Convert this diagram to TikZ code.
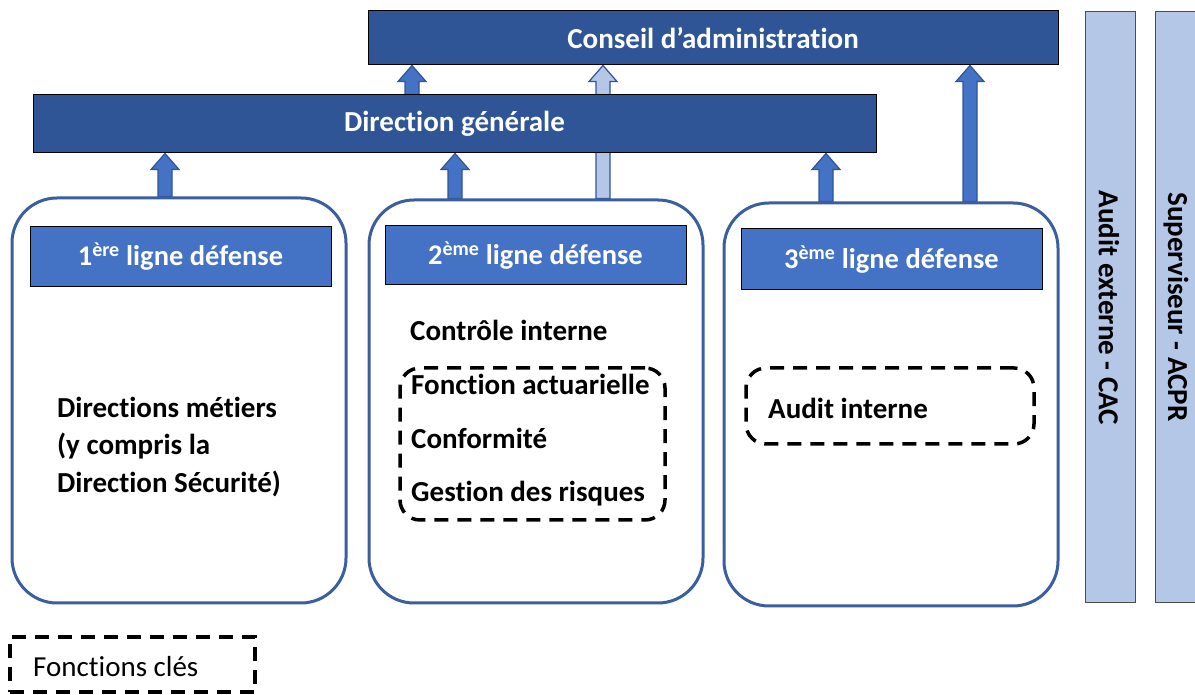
\documentclass[tikz,border=0pt]{standalone}
\usepackage{fontspec}
\setmainfont{Carlito}[Ligatures=NoCommon]
\usetikzlibrary{calc,backgrounds}
\definecolor{dkblue}{HTML}{2F5597}
\definecolor{mdblue}{HTML}{4472C4}
\definecolor{ltblue}{HTML}{B4C7E7}
\definecolor{edgeblue}{HTML}{3A5E9E}
\tikzset{
  topbar/.style={draw=black, line width=1pt, fill=dkblue, text=white, font=\fontsize{29}{32}\selectfont\bfseries, inner sep=0pt},
  sidebar/.style={draw=black!70, line width=1pt, fill=ltblue, inner sep=0pt},
  sidetext/.style={rotate=-90, font=\fontsize{29}{32}\selectfont\bfseries, inner sep=0pt},
  linebox/.style={draw=edgeblue, line width=3pt, rounded corners=45pt, inner sep=0pt},
  header/.style={draw=black, line width=1pt, fill=mdblue, text=white, font=\fontsize{28.5}{32}\selectfont\bfseries, inner sep=0pt},
  body/.style={font=\fontsize{29}{37.5}\selectfont\bfseries, text=black, inner sep=0pt, anchor=west, align=left},
  keybox/.style={draw=black, line width=3.5pt, dash pattern=on 14pt off 9pt, rounded corners=20pt},
  blk/.style={fill=mdblue, draw=dkblue, line width=1.2pt},
  blklight/.style={fill=ltblue, draw=dkblue, line width=1.2pt}
}
% block arrow pointing up: #1 style, #2 x, #3 from, #4 to
\newcommand\blkarrow[4]{%
  \draw[#1] let \p1=(#3), \p2=(#4) in
    (#2-7,\y1) -- (#2-7,\y2-16) -- (#2-14,\y2-16) -- (#2,\y2) -- (#2+14,\y2-16) -- (#2+7,\y2-16) -- (#2+7,\y1) -- cycle;}
\begin{document}
\begin{tikzpicture}[x=1pt,y=1pt]
\useasboundingbox (0,0) rectangle (1195,695);
\node[topbar, minimum width=690pt, minimum height=54pt] (ca) at (713,657) {Conseil d’administration};
\node[topbar, minimum width=843pt, minimum height=58pt] (dg) at (454.5,571) {Direction générale};
\node[sidebar, minimum width=50pt, minimum height=591pt] (ae) at (1110,387.5) {};
\node[sidetext] (aet) at (1109,387) {Audit externe - CAC};
\node[sidebar, minimum width=42pt, minimum height=591pt, anchor=west] (sv) at (1155,387.5) {};
\node[sidetext] (svt) at (1176,388) {Superviseur - ACPR};

\node[linebox, minimum width=334pt, minimum height=405pt] (b1) at (179,294.5) {};
\node[linebox, minimum width=334pt, minimum height=403pt] (b2) at (536,293.5) {};
\node[linebox, minimum width=334pt, minimum height=403pt] (b3) at (891,290.5) {};

\node[header, minimum width=301pt, minimum height=60pt] (h1) at (180.5,438) {1\textsuperscript{ère} ligne défense};
\node[header, minimum width=301pt, minimum height=59pt] (h2) at (535.5,439.5) {2\textsuperscript{ème} ligne défense};
\node[header, minimum width=301pt, minimum height=61pt] (h3) at (891.5,435.5) {3\textsuperscript{ème} ligne défense};

\node[body] (t1) at (57,248) {Directions métiers\\(y compris la\\Direction Sécurité)};
\node[body] (ci) at (410,365) {Contrôle interne};
\node[keybox, minimum width=265pt, minimum height=152pt] (d2) at (532.5,251) {};
\node[body] (fa) at (411,311) {Fonction actuarielle};
\node[body] (co) at (411,257) {Conformité};
\node[body] (gr) at (411,201) {Gestion des risques};
\node[keybox, minimum width=288pt, minimum height=76pt] (d3) at (890,289) {};
\node[body] (ai) at (768,287) {Audit interne};

\node[keybox, rounded corners=0pt, minimum width=245pt, minimum height=55pt] (lg) at (132.5,30.5) {};
\node[font=\fontsize{29}{32}\selectfont, anchor=west, inner sep=0pt] (lgt) at (33,28) {Fonctions clés};

\begin{scope}[on background layer]
\blkarrow{blk}{165}{b1.north}{dg.south}
\blkarrow{blk}{455}{b2.north}{dg.south}
\blkarrow{blklight}{603}{b2.north}{ca.south}
\blkarrow{blk}{826}{b3.north}{dg.south}
\blkarrow{blk}{970}{b3.north}{ca.south}
\blkarrow{blk}{412}{dg.north}{ca.south}
\end{scope}
\end{tikzpicture}
\end{document}
